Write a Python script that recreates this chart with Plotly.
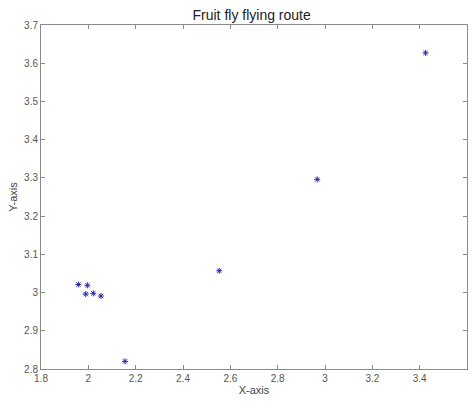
import plotly.graph_objects as go

x_vals = [1.958, 1.996, 1.989, 2.021, 2.053, 2.155, 2.553, 2.967, 3.425]
y_vals = [3.021, 3.019, 2.996, 2.998, 2.991, 2.820, 3.057, 3.296, 3.627]
x_ticks = [1.8, 2.0, 2.2, 2.4, 2.6, 2.8, 3.0, 3.2, 3.4, 3.6]
x_labels = ["1.8", "2", "2.2", "2.4", "2.6", "2.8", "3", "3.2", "3.4", "3.6"]
y_ticks = [2.8, 2.9, 3.0, 3.1, 3.2, 3.3, 3.4, 3.5, 3.6, 3.7]
y_labels = ["2.8", "2.9", "3", "3.1", "3.2", "3.3", "3.4", "3.5", "3.6", "3.7"]

fig = go.Figure()
fig.add_trace(go.Scatter(
    x=x_vals, y=y_vals, mode="markers",
    marker=dict(symbol="asterisk-open", size=5, color="#2a2aa8",
                line=dict(color="#2a2aa8", width=1)),
    showlegend=False, cliponaxis=False,
))

axis_common = dict(
    showline=True, linecolor="#8a8a8a", linewidth=1, mirror="ticks",
    ticks="inside", ticklen=4, tickcolor="#8a8a8a", tickwidth=1,
    showgrid=False, zeroline=False, automargin=False,
    tickfont=dict(family="Liberation Sans, Arial", size=10, color="#555555"),
)

fig.update_layout(
    width=473, height=401,
    margin=dict(l=41, r=6, t=25, b=32, autoexpand=False),
    paper_bgcolor="white", plot_bgcolor="white",
    title=dict(text="Fruit fly flying route", x=0.532, xanchor="center",
               y=0.963, yanchor="middle", automargin=False,
               font=dict(family="Liberation Sans, Arial", size=14, color="#222222")),
    xaxis=dict(range=[1.8, 3.6], tickvals=x_ticks, ticktext=x_labels,
               title=dict(text="X-axis", standoff=3,
                          font=dict(family="Liberation Sans, Arial", size=11, color="#444444")),
               **axis_common),
    yaxis=dict(range=[2.8, 3.7], tickvals=y_ticks, ticktext=y_labels,
               title=dict(text="Y-axis", standoff=4,
                          font=dict(family="Liberation Sans, Arial", size=11, color="#444444")),
               **axis_common),
)

fig.write_html(
    "out.html",
    config={"displayModeBar": False},
    post_script="document.body.style.margin='0';document.body.style.overflow='hidden';",
)
